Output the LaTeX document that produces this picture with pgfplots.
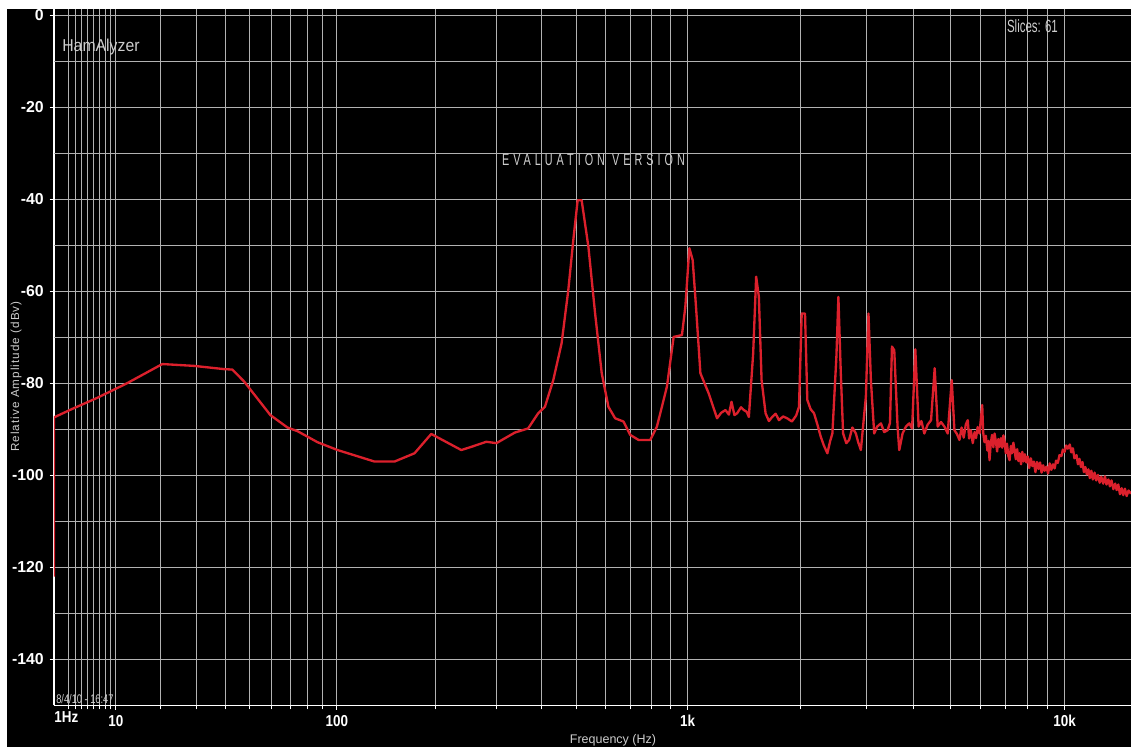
\documentclass[border=0pt]{standalone}
\usepackage{pgfplots}
\pgfplotsset{compat=1.18}
\usepackage{fontspec}
\setmainfont{Liberation Sans}
\newfontfamily\tickfont[FakeStretch=0.85]{Liberation Sans}
\newfontfamily\ytickfont{Liberation Sans}
\newfontfamily\narrowfont[FakeStretch=0.65]{Liberation Sans}
\newfontfamily\hamfont[FakeStretch=0.92]{Liberation Sans}
\newfontfamily\evalfont[FakeStretch=0.65,LetterSpace=24]{Liberation Sans}
\newfontfamily\datefont[FakeStretch=0.74]{Liberation Sans}
\newfontfamily\ylabfont[LetterSpace=9]{Liberation Sans}
\definecolor{gridc}{RGB}{178,178,178}
\definecolor{curvec}{RGB}{220,32,44}
\definecolor{txtc}{RGB}{205,205,205}
\begin{document}
\begin{tikzpicture}[x=0.6pt,y=0.6pt]
\useasboundingbox (0,0) rectangle (1131,747);
\fill[white] (0,0) rectangle (1131,747);
\fill[black] (7,0) rectangle (1131,738);
\begin{axis}[
  at={(32.4pt,25.02pt)}, anchor=south west,
  scale only axis, width=646.2pt, height=417.78pt,
  x coord trafo/.code={\begingroup\pgfkeys{/pgf/fpu=true,/pgf/fpu/output format=fixed}\pgfmathparse{ln(#1+22)/ln(10)}\pgfmathsmuggle\pgfmathresult\endgroup},
  x coord inv trafo/.code={\begingroup\pgfkeys{/pgf/fpu=true,/pgf/fpu/output format=fixed}\pgfmathparse{10^(#1)-22}\pgfmathsmuggle\pgfmathresult\endgroup},
  xmin=0, xmax=14970, ymin=-150, ymax=1.4,
  axis x line*=bottom, axis y line*=left,
  axis line style={white, line width=0.9pt, -},
  xtick={10,100,1000,10000},
  xticklabels={10,100,1k,10k},
  minor xtick={2,3,4,5,6,7,8,9,20,30,40,50,60,70,80,90,200,300,400,500,600,700,800,900,2000,3000,4000,5000,6000,7000,8000,9000},
  extra x ticks={1}, extra x tick labels={1Hz},
  extra x tick style={grid=none, major tick length=0pt, xticklabel style={xshift=3pt}},
  ytick={0,-20,-40,-60,-80,-100,-120,-140},
  yticklabels={0,-20,-40,-60,-80,-100,-120,-140},
  extra y ticks={-10,-30,-50,-70,-90,-110,-130},
  extra y tick labels={},
  extra y tick style={grid=major, major tick length=0pt},
  grid=both,
  major grid style={gridc, line width=0.6pt},
  minor grid style={gridc, line width=0.6pt},
  tick align=outside,
  major tick length=2.6pt, minor tick length=2.4pt,
  tick style={white, line width=0.6pt},
  xticklabel style={font=\tickfont\bfseries\fontsize{9.5}{11}\selectfont, text=white},
  yticklabel style={font=\ytickfont\bfseries\fontsize{9.5}{11}\selectfont, text=white},
]
\addplot[curvec, line width=1.4pt, line join=round] coordinates {
(0,-122) (0,-87.4) (2.5,-85.6) (6.5,-83.2) (12.2,-80.0) (20.4,-75.8)
(29.4,-76.2) (39.6,-76.9) (42.8,-77.0) (47.6,-79.6) (59.6,-86.9) (68.5,-89.6)
(74.2,-90.4) (86.6,-92.8) (100.6,-94.5) (131.3,-97.0) (151.1,-97.0) (173.4,-95.2)
(194.2,-91.0) (237.4,-94.5) (253.7,-93.8) (279.9,-92.7) (298.9,-93.0) (336.8,-90.7)
(366.9,-89.8) (391.3,-86.5) (408.5,-85.1) (430.8,-79.3) (454.2,-71.3) (474,-59.7)
(489.3,-48.8) (502.9,-40.2) (515.8,-40.2) (538.2,-50.3) (561.4,-64.8) (585.3,-77.8)
(610.5,-85.1) (636.8,-87.6) (670.9,-88.3) (699.7,-91.2) (737.1,-92.3) (792.9,-92.3)
(826.3,-89.4) (852.4,-85.1) (879.4,-80.7) (916.9,-69.9) (965.3,-69.5) (985.9,-63.3)
(1010.7,-50.6) (1031.6,-53.2) (1053,-63.3) (1082.1,-77.8) (1139.2,-82.2) (1199.3,-87.6)
(1230,-86.4) (1263.3,-85.8) (1290,-86.8) (1311,-84.0) (1335,-86.9) (1357.1,-86.5)
(1390,-85.2) (1414.4,-85.8) (1440,-86.2) (1458.7,-87.3) (1497.9,-73.5) (1525.8,-56.8)
(1551.4,-61.2) (1577.4,-79.3) (1616.7,-86.5) (1650,-88.2) (1683.8,-87.3) (1720,-86.6)
(1754.6,-88.0) (1800,-87.2) (1846.5,-87.6) (1900,-88.3) (1950,-87.0) (1984.2,-85.1)
(2017.4,-64.8) (2058.7,-64.8) (2088,-83.6) (2130,-85.6) (2175.6,-86.5) (2220,-88.9)
(2266.9,-91.6) (2310,-93.5) (2360.5,-95.2) (2400,-92.6) (2434,-90.9) (2494.4,-74.2)
(2525.1,-61.2) (2562.5,-77.8) (2598.9,-90.9) (2650,-93.0) (2696.2,-92.3) (2750,-89.6)
(2809.2,-90.9) (2850,-92.8) (2896.5,-94.5) (2986.5,-82.9) (3034.4,-64.8) (3079.3,-79.3)
(3142.1,-90.9) (3200,-89.4) (3273.6,-88.7) (3340,-90.6) (3408.5,-90.2) (3460,-88.6)
(3501.4,-72.0) (3550.9,-72.8) (3623.3,-89.4) (3661,-94.5) (3735.7,-90.9) (3814,-89.4)
(3891.8,-88.7) (3960,-89.8) (4036.9,-72.6) (4119.2,-89.4) (4190,-88.2) (4265,-90.9)
(4350,-89.0) (4443,-88.0) (4542,-76.7) (4626,-89.4) (4720,-88.4) (4819,-89.4)
(4917,-90.9) (5039,-79.3) (5122,-90.2) (5200,-91.0) (5281,-92.3)
(5350,-89.6) (5420,-91.8) (5490,-88.9) (5555,-88.0) (5600,-92.0) (5660,-90.2)
(5727,-93.0) (5790,-90.6) (5840,-91.9) (5900,-89.5) (5966,-90.9) (6065,-84.7)
(6100,-90.6) (6150,-92.8) (6200,-91.4) (6260,-94.6) (6300,-92.5) (6341,-96.7)
(6390,-93.0) (6440,-91.2) (6490,-93.9) (6537,-90.9) (6590,-92.6) (6640,-94.8)
(6690,-92.1) (6739,-93.8) (6800,-91.9) (6850,-94.0) (6900,-91.3) (6948,-92.6)
(7000,-95.2) (7050,-93.1) (7110,-95.8) (7163,-96.7) (7220,-93.6) (7270,-95.2)
(7330,-92.9) (7385,-94.6) (7440,-96.5) (7500,-94.3) (7560,-96.9) (7614,-95.2)
(7680,-97.6) (7740,-94.9) (7800,-97.0) (7860,-95.4) (7931,-97.2) (8000,-95.9)
(8070,-98.4) (8150,-96.3) (8230,-98.0) (8300,-97.0) (8380,-99.3) (8460,-97.1)
(8540,-98.6) (8620,-97.2) (8700,-99.4) (8780,-97.8) (8860,-99.0) (8959,-98.1)
(9050,-99.6) (9140,-97.4) (9230,-98.8) (9327,-97.6) (9420,-98.5) (9500,-96.8)
(9600,-97.3) (9700,-95.6) (9815,-95.8) (9900,-94.4) (10000,-94.9) (10100,-93.5)
(10200,-94.2) (10324,-93.3) (10420,-95.0) (10520,-94.1) (10620,-96.3) (10754,-95.6)
(10850,-97.6) (10950,-96.4) (11050,-98.2) (11150,-97.1) (11250,-99.3) (11350,-98.2)
(11450,-99.8) (11560,-98.7) (11662,-100.6) (11770,-99.0) (11880,-100.9) (12000,-99.4)
(12120,-101.1) (12250,-99.9) (12380,-101.6) (12500,-100.3) (12646,-101.8) (12780,-100.2)
(12900,-102.0) (13050,-100.9) (13172,-102.4) (13300,-101.1) (13450,-103.0) (13600,-101.8)
(13720,-103.2) (13860,-102.0) (14000,-104.1) (14150,-102.8) (14282,-104.3) (14430,-102.9)
(14580,-104.5) (14750,-103.3) (14970,-104.0)
};
\end{axis}
\node[anchor=base west, inner sep=0pt, text=txtc, font=\hamfont\fontsize{10.3}{12}\selectfont] at (62,695) {HamAlyzer};
\node[anchor=base west, inner sep=0pt, text=txtc, font=\narrowfont\fontsize{10.6}{12}\selectfont] at (1006.7,714) {Slices: 61};
\node[anchor=base west, inner sep=0pt, text=txtc, font=\evalfont\fontsize{10}{12}\selectfont] at (501.7,581) {EVALUATION VERSION};
\node[anchor=base west, inner sep=0pt, text=txtc, font=\datefont\fontsize{7.5}{9}\selectfont] at (56,43.7) {8/4/10 - 16:47};
\node[anchor=base, inner sep=0pt, text=txtc, font=\fontsize{7.5}{9}\selectfont] at (613,3.7) {Frequency (Hz)};
\node[anchor=base, inner sep=0pt, rotate=90, text=txtc, font=\ylabfont\fontsize{7}{9}\selectfont] at (19,370.5) {Relative Amplitude (dBv)};
\end{tikzpicture}
\end{document}
